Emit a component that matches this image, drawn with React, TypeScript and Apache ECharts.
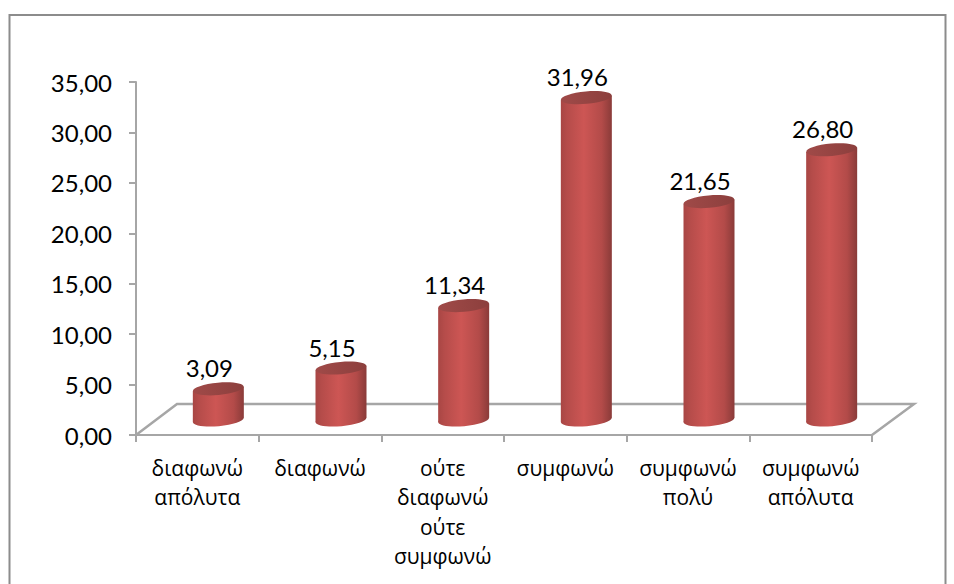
import React, { useEffect, useRef } from "react";
import * as echarts from "echarts";

const categories = ["διαφωνώ\nαπόλυτα", "διαφωνώ", "ούτε\nδιαφωνώ\nούτε\nσυμφωνώ", "συμφωνώ", "συμφωνώ\nπολύ", "συμφωνώ\nαπόλυτα"];
const values = [3.09, 5.15, 11.34, 31.96, 21.65, 26.8];
const fmt = (v: number) => v.toFixed(2).replace(".", ",");
const NUM_FONT = "Lato";
const CAT_FONT = "'Open Sans'";

export default function App() {
  const ref = useRef<HTMLDivElement>(null);
  useEffect(() => {
    const chart = echarts.init(ref.current!, undefined, { renderer: "svg" });
    chart.setOption({
      animation: false,
      backgroundColor: "#fff",
      grid: { left: 136, right: 82, top: 82, bottom: 149 },
      graphic: [
        { type: "rect", silent: true, z: 0, shape: { x: 9.5, y: 15, width: 936, height: 600 }, style: { fill: "#fff", stroke: "#8c8c8c", lineWidth: 2 } },
        { type: "polyline", silent: true, z: 1, shape: { points: [[136, 435], [177, 404], [914, 404], [872, 435]] }, style: { fill: "none", stroke: "#a6a6a6", lineWidth: 2.5 } },
      ],
      xAxis: {
        type: "category",
        data: categories,
        axisLine: { lineStyle: { color: "#a6a6a6", width: 2 } },
        axisTick: { show: true, length: 7, alignWithLabel: false, lineStyle: { color: "#a6a6a6", width: 2 } },
        axisLabel: { color: "#000", fontFamily: CAT_FONT, fontSize: 21, lineHeight: 29.5, margin: 18, interval: 0 },
      },
      yAxis: {
        type: "value",
        min: 0,
        max: 35,
        interval: 5,
        splitLine: { show: false },
        axisLine: { show: true, lineStyle: { color: "#a6a6a6", width: 2 } },
        axisTick: { show: true, length: 7, lineStyle: { color: "#a6a6a6", width: 2 } },
        axisLabel: { color: "#000", fontFamily: NUM_FONT, fontSize: 24, margin: 24, padding: [4, 0, 0, 0], formatter: (v: number) => fmt(v) },
      },
      series: [
        {
          type: "custom",
          z: 5,
          data: values.map((v, i) => [i, v]),
          encode: { x: 0, y: 1 },
          renderItem: (_p: any, api: any) => {
            const top = api.coord([api.value(0), api.value(1)]);
            const base = api.coord([api.value(0), 0]);
            const dx = 21, dy = -15, rx = 25.5, ry = 6.2, sl = 2.2, tilt = (5 * Math.PI) / 180;
            const cx = top[0] + dx, yt = top[1] + dy, yb = base[1] + dy;
            const grad = () => new echarts.graphic.LinearGradient(0, 0, 1, 0, [
              { offset: 0, color: "#a84644" },
              { offset: 0.12, color: "#b54c4a" },
              { offset: 0.45, color: "#cd5654" },
              { offset: 0.8, color: "#b34b49" },
              { offset: 1, color: "#8a3b39" },
            ]);
            const capGrad = new echarts.graphic.LinearGradient(0, 0, 1, 0, [
              { offset: 0, color: "#a04a48" },
              { offset: 1, color: "#8c3f3d" },
            ]);
            return {
              type: "group",
              children: [
                { type: "ellipse", x: cx, y: yb, rotation: tilt, shape: { cx: 0, cy: 0, rx, ry }, style: { fill: grad() } },
                { type: "polygon", shape: { points: [[cx - rx, yt + sl], [cx + rx, yt - sl], [cx + rx, yb - sl], [cx - rx, yb + sl]] }, style: { fill: grad() } },
                { type: "ellipse", x: cx, y: yt, rotation: tilt, shape: { cx: 0, cy: 0, rx, ry }, style: { fill: capGrad } },
                { type: "text", style: { text: fmt(api.value(1)), x: cx - 9, y: yt - 9, align: "center", verticalAlign: "bottom", fill: "#000", fontFamily: NUM_FONT, fontSize: 24 } },
              ],
            };
          },
        },
      ],
    });
    return () => chart.dispose();
  }, []);
  return <div ref={ref} style={{ width: 954, height: 584, position: "absolute", left: 0, top: 0 }} />;
}
